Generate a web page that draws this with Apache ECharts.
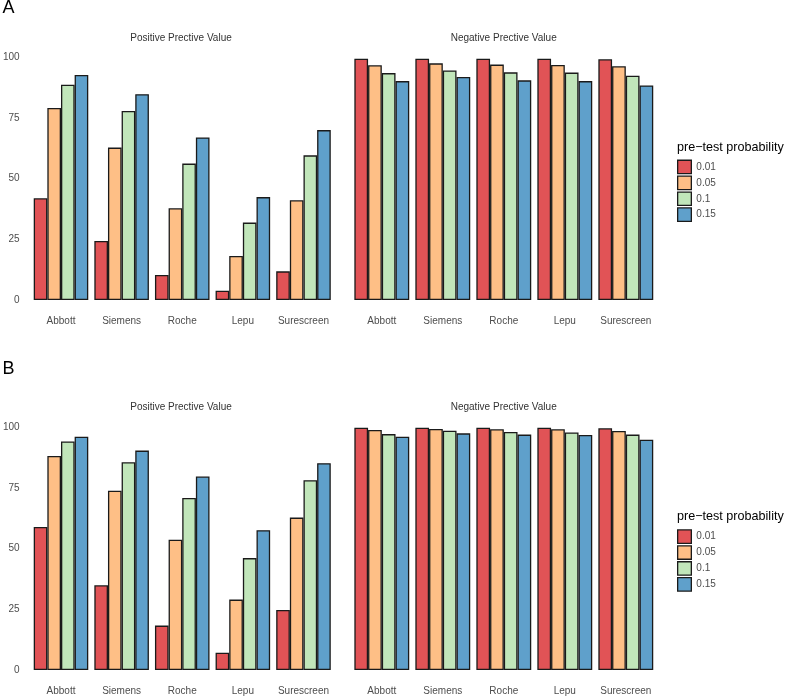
<!DOCTYPE html>
<html>
<head>
<meta charset="utf-8">
<script src="https://cdn.jsdelivr.net/npm/echarts@6/dist/echarts.min.js"></script>
<style>html,body{margin:0;padding:0;background:#fff;}#c{width:787px;height:696px;}</style>
</head>
<body>
<div id="c"></div>
<script>
// ---- data ----
const categories = ['Abbott', 'Siemens', 'Roche', 'Lepu', 'Surescreen'];
const probabilities = ['0.01', '0.05', '0.1', '0.15'];
const yTicks = [0, 25, 50, 75, 100];

// Panel A: Positive Predictive Value
const ppvA_001 = [41.9, 24.3, 10.3, 3.8, 11.8];
const ppvA_005 = [79.1, 62.8, 37.8, 18.1, 41.1];
const ppvA_010 = [88.7, 77.9, 56.2, 31.9, 59.6];
const ppvA_015 = [92.7, 84.8, 67.0, 42.4, 70.0];
// Panel A: Negative Predictive Value
const npvA_001 = [99.4, 99.4, 99.4, 99.4, 99.2];
const npvA_005 = [96.7, 97.5, 97.0, 96.8, 96.3];
const npvA_010 = [93.5, 94.6, 93.8, 93.7, 92.4];
const npvA_015 = [90.2, 91.9, 90.5, 90.2, 88.4];
// Panel B: Positive Predictive Value
const ppvB_001 = [58.9, 34.9, 18.3, 7.1, 24.7];
const ppvB_005 = [88.2, 73.9, 53.7, 29.0, 62.8];
const ppvB_010 = [94.2, 85.6, 70.9, 46.1, 78.2];
const ppvB_015 = [96.1, 90.4, 79.7, 57.6, 85.2];
// Panel B: Negative Predictive Value
const npvB_001 = [99.85, 99.85, 99.85, 99.85, 99.6];
const npvB_005 = [98.9, 99.3, 99.2, 99.2, 98.5];
const npvB_010 = [97.2, 98.6, 98.1, 97.9, 97.0];
const npvB_015 = [96.1, 97.5, 97.0, 96.8, 94.9];

const facetTitles = ['Positive Prective Value', 'Negative Prective Value'];
const panelLabels = ['A', 'B'];
const legendTitle = 'pre\u2212test probability';

// ---- styles ----
const colors = ['#E15356', '#FEBF86', '#C1E6BA', '#5FA0CB'];
const FONT = 'Liberation Sans, Arial, sans-serif';

const grids = [
  {left: 28.2, top: 57.3, width: 305.6, height: 242.7},
  {left: 351.3, top: 57.3, width: 305.0, height: 242.7},
  {left: 28.2, top: 427.3, width: 305.6, height: 242.7},
  {left: 351.3, top: 427.3, width: 305.0, height: 242.7}
];

const panelData = [
  [ppvA_001, ppvA_005, ppvA_010, ppvA_015],
  [npvA_001, npvA_005, npvA_010, npvA_015],
  [ppvB_001, ppvB_005, ppvB_010, ppvB_015],
  [npvB_001, npvB_005, npvB_010, npvB_015]
];

const xAxis = grids.map((g, i) => ({
  type: 'category', gridIndex: i, data: categories, boundaryGap: true,
  axisLine: {show: false}, axisTick: {show: false},
  axisLabel: {show: true, interval: 0, color: '#4D4D4D', fontSize: 10, fontFamily: FONT, margin: 16}
}));
const yAxis = grids.map((g, i) => ({
  type: 'value', gridIndex: i, min: yTicks[0], max: yTicks[yTicks.length - 1], interval: 25,
  axisLine: {show: false}, axisTick: {show: false}, splitLine: {show: false},
  axisLabel: {show: i % 2 === 0, color: '#4D4D4D', fontSize: 10, fontFamily: FONT, margin: 11}
}));

const series = [];
panelData.forEach((arrs, gi) => {
  arrs.forEach((vals, k) => {
    series.push({
      type: 'bar', name: probabilities[k], xAxisIndex: gi, yAxisIndex: gi,
      data: vals, barGap: '0%', barCategoryGap: '10%',
      itemStyle: {color: colors[k], borderColor: '#1a1a1a', borderWidth: 1.3},
      emphasis: {disabled: true}
    });
  });
});

const legendCommon = {
  orient: 'vertical', left: 677, padding: 0, itemWidth: 13.7, itemHeight: 13.4, itemGap: 1.2,
  icon: 'rect', data: probabilities, selectedMode: false,
  itemStyle: {borderColor: '#1a1a1a', borderWidth: 1.3},
  textStyle: {color: '#4D4D4D', fontSize: 10, fontFamily: FONT, lineHeight: 13.4}
};

const graphic = [];
const titleCenters = [181, 503.7];
const titleY = [38.3, 407];
titleY.forEach(y => {
  facetTitles.forEach((t, j) => {
    graphic.push({type: 'text', x: titleCenters[j], y: y,
      style: {text: t, fill: '#333333', font: '10px ' + FONT, textAlign: 'center', textVerticalAlign: 'middle'}});
  });
});
graphic.push({type: 'text', x: 2.5, y: 8.3, style: {text: panelLabels[0], fill: '#000', font: '18px ' + FONT, textAlign: 'left', textVerticalAlign: 'middle'}});
graphic.push({type: 'text', x: 2.5, y: 369, style: {text: panelLabels[1], fill: '#000', font: '18px ' + FONT, textAlign: 'left', textVerticalAlign: 'middle'}});
graphic.push({type: 'text', x: 677, y: 147.3, style: {text: legendTitle, fill: '#000', font: '12.6px ' + FONT, textAlign: 'left', textVerticalAlign: 'middle'}});
graphic.push({type: 'text', x: 677, y: 516.7, style: {text: legendTitle, fill: '#000', font: '12.6px ' + FONT, textAlign: 'left', textVerticalAlign: 'middle'}});

const option = {
  animation: false,
  backgroundColor: '#ffffff',
  grid: grids,
  xAxis: xAxis,
  yAxis: yAxis,
  series: series,
  legend: [
    Object.assign({}, legendCommon, {top: 159.6}),
    Object.assign({}, legendCommon, {top: 529.3})
  ],
  graphic: graphic
};

const chart = echarts.init(document.getElementById('c'), null, {renderer: 'canvas'});
chart.setOption(option);
</script>
</body>
</html>
